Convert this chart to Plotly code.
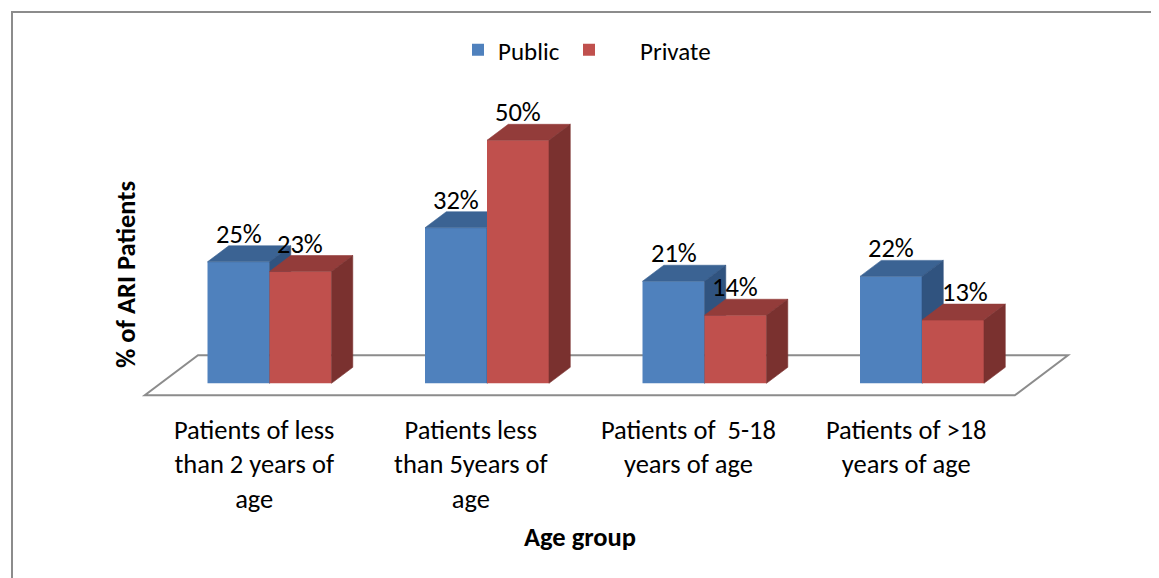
import plotly.graph_objects as go

# ---------------- data ----------------
categories = [
    "Patients of less<br>than 2 years of<br>age",
    "Patients less<br>than 5years of<br>age",
    "Patients of\u00a0\u00a05-18<br>years of age",
    "Patients of >18<br>years of age",
]
public_pct = [25, 32, 21, 22]
private_pct = [23, 50, 14, 13]
series_names = ["Public", "Private"]
x_title = "Age group"
y_title = "% of ARI Patients"

# ---------------- styling / geometry ----------------
PAGE_W, PAGE_H = 1159, 578
OFF = 8                                 # default body margin of the html page
W, H = PAGE_W - OFF, PAGE_H - OFF       # figure size


def fx(px):  # page pixel x -> paper
    return (px - OFF) / W


def fy(py):  # page pixel y -> paper
    return 1 - (py - OFF) / H


FONT = "Carlito, Calibri, Lato, sans-serif"
X0_PX, SX = 269.5 - OFF, 217.5   # figure pixel of category 0 centre, px per category
Y0_PX, SY = 383.3 - OFF, 4.86    # figure pixel of value 0, px per percent
BAR_W = 0.285                 # width of one bar in category units
SLANT = 1.33                  # horizontal px shift per px of depth
DEPTH_PX = 16                 # bar depth in px
DX = DEPTH_PX * SLANT / SX
DY = DEPTH_PX / SY
FLOOR_FRONT, FLOOR_BACK = -12, 28   # floor depth extent in px

colors = {
    "Public": dict(front="#4F81BD", top="#3B6393", side="#30537F"),
    "Private": dict(front="#C0504D", top="#933C3A", side="#7A312F"),
}

xr = [(0 - X0_PX) / SX, (W - X0_PX) / SX]
yr = [(Y0_PX - H) / SY, Y0_PX / SY]

fig = go.Figure()

series = [("Public", public_pct, -BAR_W, "x", "y", "legend"),
          ("Private", private_pct, 0.0, "x2", "y2", "legend2")]

idx = list(range(len(categories)))
for name, vals, off, xa, ya, lg in series:
    c = colors[name]
    fig.add_trace(go.Bar(
        x=idx, y=vals, offset=off, width=BAR_W, name=name,
        marker=dict(color=c["front"], line=dict(width=0)),
        xaxis=xa, yaxis=ya, legend=lg, hoverinfo="skip",
    ))
    for i, v in zip(idx, vals):
        xl = i + off
        xrr = xl + BAR_W
        # top face
        fig.add_trace(go.Scatter(
            x=[xl, xrr, xrr + DX, xl + DX, xl],
            y=[v, v, v + DY, v + DY, v],
            fill="toself", fillcolor=c["top"], mode="lines",
            line=dict(width=0.6, color=c["top"]),
            xaxis=xa, yaxis=ya, showlegend=False, hoverinfo="skip",
        ))
        # side face
        fig.add_trace(go.Scatter(
            x=[xrr, xrr, xrr + DX, xrr + DX, xrr],
            y=[0, v, v + DY, DY, 0],
            fill="toself", fillcolor=c["side"], mode="lines",
            line=dict(width=0.6, color=c["side"]),
            xaxis=xa, yaxis=ya, showlegend=False, hoverinfo="skip",
        ))

# data labels
label_nudge = {("Private", 3): 12}
annotations = []
for name, vals, off, xa, ya, lg in series:
    for i, v in zip(idx, vals):
        annotations.append(dict(
            x=i + off + BAR_W / 2, y=v + DY, xref="x", yref="y",
            text=f"{v}%", showarrow=False, xanchor="center", yanchor="bottom",
            xshift=label_nudge.get((name, i), 0), yshift=-6,
            font=dict(family=FONT, size=26.5, color="#000000"),
        ))

# category labels (centred on the floor's front edge)
ffx = FLOOR_FRONT * SLANT / SX
for i, cat in zip(idx, categories):
    annotations.append(dict(
        x=i + ffx, y=fy(412), xref="x", yref="paper",
        text=cat, showarrow=False, xanchor="center", yanchor="top", align="center",
        font=dict(family=FONT, size=26.5, color="#000000"),
    ))

# axis titles
annotations.append(dict(
    x=fx(580), y=fy(537), xref="paper", yref="paper", text=f"<b>{x_title}</b>",
    showarrow=False, xanchor="center", yanchor="middle",
    font=dict(family=FONT, size=26.5, color="#000000"),
))
annotations.append(dict(
    x=fx(126), y=fy(275), xref="paper", yref="paper", text=f"<b>{y_title}</b>",
    showarrow=False, textangle=-90, xanchor="center", yanchor="middle",
    font=dict(family=FONT, size=26.5, color="#000000"),
))

# floor (3-D base) and chart border
n = len(categories)
fx0, fx1 = -0.5, n - 0.5
fbx = FLOOR_BACK * SLANT / SX
fy_front, fy_back = FLOOR_FRONT / SY, FLOOR_BACK / SY
floor_path = (f"M{fx0 + ffx},{fy_front} L{fx1 + ffx},{fy_front} "
              f"L{fx1 + fbx},{fy_back} L{fx0 + fbx},{fy_back} Z")
shapes = [
    dict(type="path", path=floor_path, xref="x", yref="y", layer="below",
         line=dict(color="#8C8C8C", width=2), fillcolor="rgba(0,0,0,0)"),
    dict(type="path", xref="paper", yref="paper", layer="above",
         path=f"M{fx(12)},0 L{fx(12)},{fy(12)} L1,{fy(12)}",
         line=dict(color="#8C8C8C", width=2)),
]

ax_common = dict(visible=False, showgrid=False, zeroline=False, fixedrange=True)
fig.update_layout(
    width=W, height=H,
    margin=dict(l=0, r=0, t=0, b=0),
    paper_bgcolor="white", plot_bgcolor="white",
    barmode="overlay",
    xaxis=dict(range=xr, **ax_common),
    yaxis=dict(range=yr, **ax_common),
    xaxis2=dict(range=xr, overlaying="x", **ax_common),
    yaxis2=dict(range=yr, overlaying="y", **ax_common),
    legend=dict(x=fx(458), y=fy(50), xanchor="left", yanchor="middle",
                orientation="h", itemwidth=30, bgcolor="rgba(0,0,0,0)",
                font=dict(family=FONT, size=25, color="#000000")),
    legend2=dict(x=fx(538), y=fy(50), xanchor="left", yanchor="middle",
                 orientation="h", itemwidth=92, bgcolor="rgba(0,0,0,0)",
                 font=dict(family=FONT, size=25, color="#000000")),
    annotations=annotations,
    shapes=shapes,
    showlegend=True,
)

fig.write_html("out.html")
